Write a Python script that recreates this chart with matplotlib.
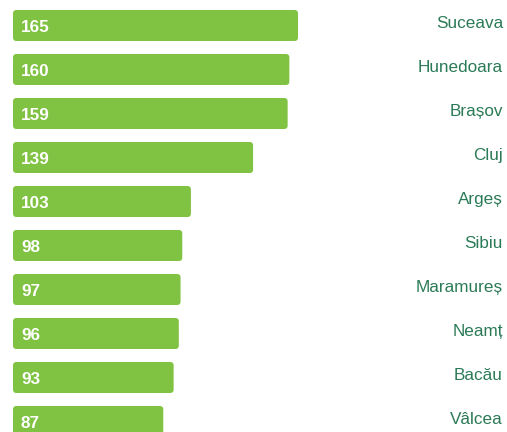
import matplotlib.pyplot as plt
from matplotlib.patches import FancyBboxPatch

# Data
counties = ['Suceava', 'Hunedoara', 'Brașov', 'Cluj', 'Argeș', 'Sibiu',
            'Maramureș', 'Neamț', 'Bacău', 'Vâlcea']
values = [165, 160, 159, 139, 103, 98, 97, 96, 93, 87]

bar_color = '#80c242'
label_color = '#2b7a57'

W, H = 507, 432
fig = plt.figure(figsize=(W / 100, H / 100), dpi=100)
ax = fig.add_axes([0, 0, 1, 1])

# pixel geometry -> data limits
px_per_unit = (298 - 13) / 165.0
x0_px = 13
ax.set_xlim(-x0_px / px_per_unit, (W - x0_px) / px_per_unit)
row_px = 44.0
first_center = 25.5
ax.set_ylim((H - first_center) / row_px, -first_center / row_px)
ax.axis('off')

bar_h = 31 / row_px
radius_px = 3.5
aspect = px_per_unit / row_px

for i, (name, v) in enumerate(zip(counties, values)):
    # Rounded bar
    box = FancyBboxPatch((0, i - bar_h / 2), v, bar_h,
                         boxstyle=f'round,pad=0,rounding_size={radius_px / px_per_unit}',
                         mutation_aspect=aspect,
                         facecolor=bar_color, edgecolor='none')
    ax.add_patch(box)

    # Value inside bar
    ax.text(8 / px_per_unit, i + 0.05, str(v), color='white', fontsize=12.3,
            fontweight='bold', family='Liberation Sans',
            ha='left', va='center')

    # County name on the right
    ax.text((503 - x0_px) / px_per_unit, i - 0.05, name, color=label_color,
            fontsize=12.3, family='Liberation Sans', ha='right', va='center')

fig.savefig('out.png', dpi=100)
